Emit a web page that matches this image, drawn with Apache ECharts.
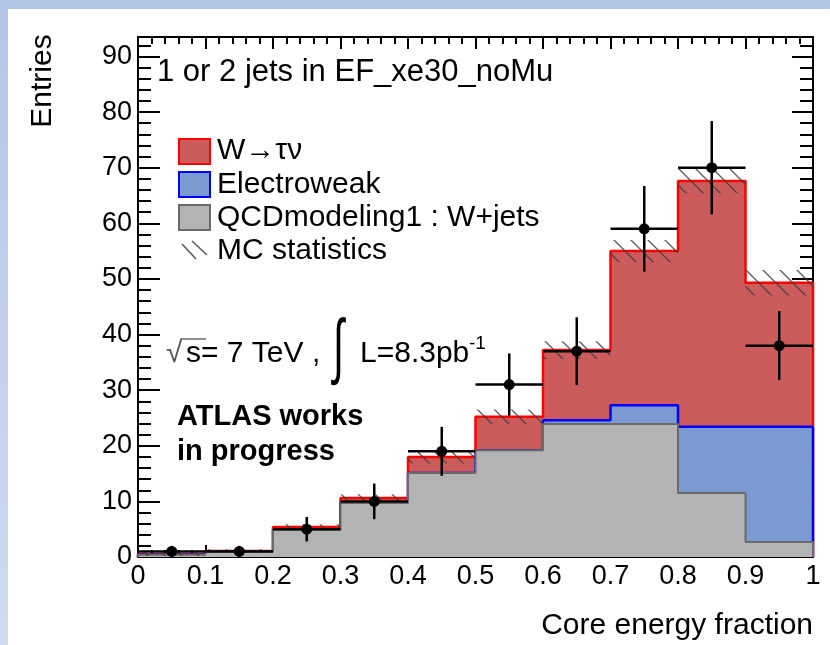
<!DOCTYPE html>
<html><head><meta charset="utf-8">
<script src="https://cdn.jsdelivr.net/npm/echarts@6/dist/echarts.min.js"></script>
<style>
html,body{margin:0;padding:0;width:830px;height:645px;overflow:hidden;background:linear-gradient(to bottom,#b3c5e7,#cfdaf0);}
#panel{position:absolute;left:8px;top:9px;right:0;bottom:0;background:#fff;}
#chart{position:absolute;left:0;top:0;width:830px;height:645px;}
</style></head>
<body><div id="panel"></div><div id="chart"></div>
<script>
// ---- data ----
const binEdges = [0, 0.1, 0.2, 0.3, 0.4, 0.5, 0.6, 0.7, 0.8, 0.9, 1.0];
const qcdW    = [0.4, 1.0, 4.9, 9.7, 15.1, 19.2, 23.9, 23.9, 11.5, 2.7];   // QCDmodeling1 : W+jets
const ewk     = [0, 0, 0, 0, 0, 0, 0.7, 3.4, 11.9, 20.7];                  // Electroweak
const wtaunu  = [0.1, 0.1, 0.5, 0.9, 2.9, 6.0, 12.6, 27.7, 44.2, 25.9];    // W->tau nu
const mcStat  = [0.3, 0.3, 0.5, 0.7, 1.2, 1.3, 1.6, 2.0, 2.2, 2.3];        // MC statistics (+-)
const dataX   = [0.05, 0.15, 0.25, 0.35, 0.45, 0.55, 0.65, 0.75, 0.85, 0.95];
const dataY   = [1, 1, 5, 10, 19, 31, 37, 59, 70, 38];
const dataErr = [1, 1, 2.2, 3.2, 4.4, 5.6, 6.1, 7.7, 8.4, 6.2];
const xTickLabels = ['0','0.1','0.2','0.3','0.4','0.5','0.6','0.7','0.8','0.9','1'];
const yTickLabels = ['0','10','20','30','40','50','60','70','80','90'];

const FONT = "'Liberation Sans', Arial, Helvetica, sans-serif";

// cumulative stacks
const cumLow = qcdW.slice();
const cumMid = qcdW.map((v, i) => v + ewk[i]);
const cumTop = cumMid.map((v, i) => v + wtaunu[i]);

function stepPts(vals) {
  const n = vals.length;
  const pts = [[binEdges[0], 0]];
  for (let i = 0; i < n; i++) pts.push([binEdges[i], vals[i]]);
  pts.push([binEdges[n], vals[n - 1]]);
  pts.push([binEdges[n], 0]);
  return pts;
}

// hatch pattern
const pc = document.createElement('canvas');
pc.width = 17; pc.height = 17;
const g = pc.getContext('2d');
g.strokeStyle = 'rgba(60,60,60,0.85)';
g.lineWidth = 1.3;
g.beginPath();
g.moveTo(-2, -2); g.lineTo(19, 19);
g.moveTo(-19, -2); g.lineTo(2, 19);
g.moveTo(15, -2); g.lineTo(36, 19);
g.stroke();
const hatch = { image: pc, repeat: 'repeat' };

const hatchData = cumTop.map((t, i) => [binEdges[i], binEdges[i + 1], t, mcStat[i]]);
const pointData = dataX.map((x, i) => [x, dataY[i], dataErr[i], (binEdges[i + 1] - binEdges[i]) / 2]);

const chart = echarts.init(document.getElementById('chart'), null, { renderer: 'canvas' });

const axisLine = { show: true, onZero: false, lineStyle: { color: '#000', width: 2 } };
const noSplit = { show: false };
const tickStyle = { color: '#000', width: 2 };

const option = {
  animation: false,
  backgroundColor: 'transparent',
  grid: { left: 138, top: 37, right: 17, bottom: 88, containLabel: false, outerBoundsMode: 'none' },
  xAxis: [
    { type: 'value', position: 'bottom', min: 0, max: 1, interval: 0.1,
      axisLine: axisLine, splitLine: noSplit,
      axisTick: { show: true, inside: true, length: 12, lineStyle: tickStyle },
      minorTick: { show: true, splitNumber: 5, length: 7, lineStyle: tickStyle },
      axisLabel: { show: true, margin: 6, fontSize: 27, fontFamily: FONT, color: '#000',
        formatter: v => xTickLabels[Math.round(v * 10)] } },
    { type: 'value', position: 'top', min: 0, max: 1, interval: 0.1,
      axisLine: axisLine, splitLine: noSplit,
      axisTick: { show: true, inside: true, length: 12, lineStyle: tickStyle },
      minorTick: { show: true, splitNumber: 5, length: 7, lineStyle: tickStyle },
      axisLabel: { show: false } }
  ],
  yAxis: [
    { type: 'value', position: 'left', min: 0, max: 93.5, interval: 10,
      axisLine: axisLine, splitLine: noSplit,
      axisTick: { show: true, inside: true, length: 22, lineStyle: tickStyle },
      axisLabel: { show: true, margin: 6, fontSize: 27, fontFamily: FONT, color: '#000', showMaxLabel: false,
        formatter: v => { const k = Math.round(v / 10); return (Math.abs(v - k * 10) < 1e-6 && yTickLabels[k] !== undefined) ? yTickLabels[k] : ''; } } },
    { type: 'value', position: 'left', min: 0, max: 93.5, interval: 2,
      axisLine: { show: false, onZero: false }, splitLine: noSplit,
      axisTick: { show: true, inside: true, length: 13, lineStyle: tickStyle },
      axisLabel: { show: false } },
    { type: 'value', position: 'right', min: 0, max: 93.5, interval: 10,
      axisLine: axisLine, splitLine: noSplit,
      axisTick: { show: true, inside: true, length: 21, lineStyle: tickStyle },
      axisLabel: { show: false } },
    { type: 'value', position: 'right', min: 0, max: 93.5, interval: 2,
      axisLine: { show: false, onZero: false }, splitLine: noSplit,
      axisTick: { show: true, inside: true, length: 13, lineStyle: tickStyle },
      axisLabel: { show: false } }
  ],
  series: [
    { name: 'W→τν', type: 'line', step: 'end', data: stepPts(cumTop), symbol: 'none', silent: true, z: 2,
      lineStyle: { color: '#ff0000', width: 2.5 }, areaStyle: { color: '#cc5c5c', opacity: 1 } },
    { name: 'Electroweak', type: 'line', step: 'end', data: stepPts(cumMid), symbol: 'none', silent: true, z: 3,
      lineStyle: { color: '#0000ff', width: 2.5 }, areaStyle: { color: '#7b9ad2', opacity: 1 } },
    { name: 'QCDmodeling1 : W+jets', type: 'line', step: 'end', data: stepPts(cumLow), symbol: 'none', silent: true, z: 4,
      lineStyle: { color: '#6a6a6a', width: 2 }, areaStyle: { color: '#b3b3b3', opacity: 1 } },
    { name: 'MC statistics', type: 'custom', data: hatchData, z: 5, silent: true,
      encode: { x: [0, 1], y: 2 },
      renderItem: (params, api) => {
        const x0 = api.value(0), x1 = api.value(1), t = api.value(2), e = api.value(3);
        const p1 = api.coord([x0, t + e]);
        const p2 = api.coord([x1, Math.max(0, t - e)]);
        return { type: 'rect', shape: { x: p1[0], y: p1[1], width: p2[0] - p1[0], height: p2[1] - p1[1] },
          style: { fill: hatch } };
      } },
    { name: 'Data', type: 'custom', data: pointData, z: 6, silent: true,
      encode: { x: 0, y: 1 },
      renderItem: (params, api) => {
        const x = api.value(0), y = api.value(1), e = api.value(2), hw = api.value(3);
        const c = api.coord([x, y]);
        const t = api.coord([x, y + e]);
        const b = api.coord([x, Math.max(0, y - e)]);
        const l = api.coord([x - hw, y]);
        const r = api.coord([x + hw, y]);
        const ls = { stroke: '#000', lineWidth: 2.5 };
        return { type: 'group', children: [
          { type: 'line', shape: { x1: c[0], y1: t[1], x2: c[0], y2: b[1] }, style: ls },
          { type: 'line', shape: { x1: l[0], y1: c[1], x2: r[0], y2: c[1] }, style: ls },
          { type: 'circle', shape: { cx: c[0], cy: c[1], r: 5.5 }, style: { fill: '#000' } }
        ] };
      } }
  ],
  graphic: [
    // axis titles
    { type: 'text', x: 43, y: 81, rotation: Math.PI / 2, z: 10,
      style: { text: 'Entries', fontSize: 30, fontFamily: FONT, fill: '#000', align: 'center', verticalAlign: 'middle' } },
    { type: 'text', x: 813, y: 626, z: 10,
      style: { text: 'Core energy fraction', fontSize: 30, fontFamily: FONT, fill: '#000', align: 'right', verticalAlign: 'middle' } },
    // title
    { type: 'text', x: 157, y: 72, z: 10,
      style: { text: '1 or 2 jets in EF_xe30_noMu', fontSize: 31, fontFamily: FONT, fill: '#000', align: 'left', verticalAlign: 'middle' } },
    // legend
    { type: 'rect', z: 10, shape: { x: 179, y: 139, width: 31, height: 25 }, style: { fill: '#cc5c5c', stroke: '#ff0000', lineWidth: 2 } },
    { type: 'rect', z: 10, shape: { x: 179, y: 172, width: 31, height: 25 }, style: { fill: '#7b9ad2', stroke: '#0000ff', lineWidth: 2 } },
    { type: 'rect', z: 10, shape: { x: 179, y: 205, width: 31, height: 25 }, style: { fill: '#b3b3b3', stroke: '#6a6a6a', lineWidth: 2 } },
    { type: 'line', z: 10, shape: { x1: 182, y1: 244, x2: 196, y2: 259 }, style: { stroke: '#555', lineWidth: 1.5 } },
    { type: 'line', z: 10, shape: { x1: 192, y1: 241, x2: 207, y2: 255 }, style: { stroke: '#555', lineWidth: 1.5 } },
    { type: 'text', x: 217, y: 151, z: 10, style: { text: 'W→τν', fontSize: 30, fontFamily: FONT, fill: '#000', align: 'left', verticalAlign: 'middle' } },
    { type: 'text', x: 217, y: 184.5, z: 10, style: { text: 'Electroweak', fontSize: 30, fontFamily: FONT, fill: '#000', align: 'left', verticalAlign: 'middle' } },
    { type: 'text', x: 217, y: 217.5, z: 10, style: { text: 'QCDmodeling1 : W+jets', fontSize: 30, fontFamily: FONT, fill: '#000', align: 'left', verticalAlign: 'middle' } },
    { type: 'text', x: 217, y: 251, z: 10, style: { text: 'MC statistics', fontSize: 30, fontFamily: FONT, fill: '#000', align: 'left', verticalAlign: 'middle' } },
    // energy / luminosity label
    { type: 'text', x: 166, y: 354, z: 10, style: { text: '√', fontSize: 30, fontFamily: FONT, fill: '#555', align: 'left', verticalAlign: 'middle' } },
    { type: 'line', z: 10, shape: { x1: 182, y1: 339, x2: 206, y2: 339 }, style: { stroke: '#555', lineWidth: 1.3 } },
    { type: 'text', x: 186, y: 354, z: 10, style: { text: 's= 7 TeV ,', fontSize: 30, fontFamily: FONT, fill: '#000', align: 'left', verticalAlign: 'middle' } },
    { type: 'text', x: 333, y: 350, scaleY: 1.8, z: 10, style: { text: '∫', fontSize: 40, fontFamily: FONT, fill: '#000', align: 'left', verticalAlign: 'middle' } },
    { type: 'text', x: 360, y: 354, z: 10, style: { text: 'L=8.3pb', fontSize: 30, fontFamily: FONT, fill: '#000', align: 'left', verticalAlign: 'middle' } },
    { type: 'text', x: 469, y: 344, z: 10, style: { text: '-1', fontSize: 19, fontFamily: FONT, fill: '#000', align: 'left', verticalAlign: 'middle' } },
    // ATLAS label
    { type: 'text', x: 177, y: 434.5, z: 10, style: { text: 'ATLAS works\nin progress', fontSize: 29, fontWeight: 'bold', lineHeight: 35, fontFamily: FONT, fill: '#000', align: 'left', verticalAlign: 'middle' } }
  ]
};
chart.setOption(option);
</script>
</body></html>
